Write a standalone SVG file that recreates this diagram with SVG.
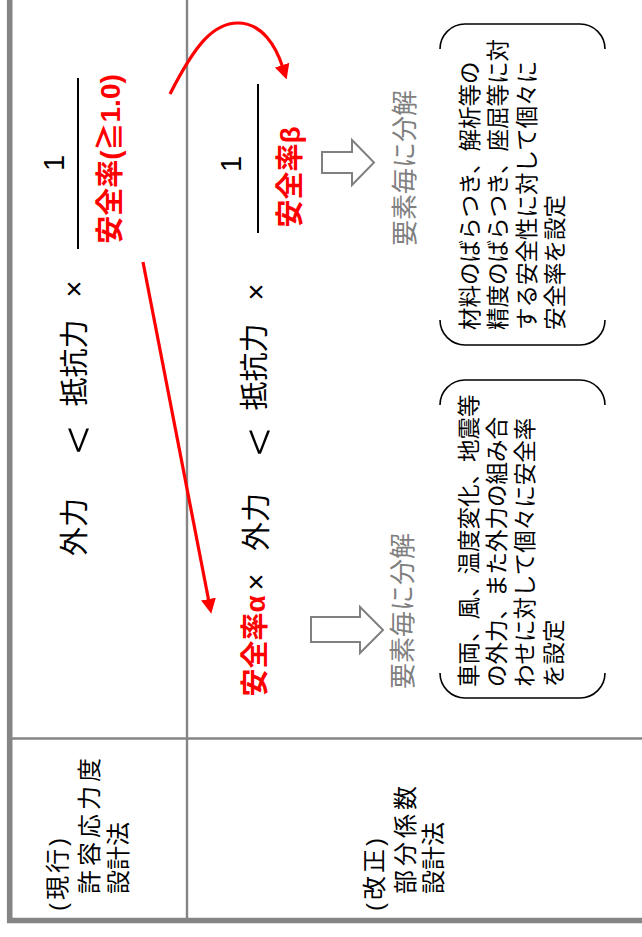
<svg xmlns="http://www.w3.org/2000/svg" width="642" height="937" viewBox="0 0 642 937">
<style>
text{font-family:"Liberation Sans","Noto Sans CJK JP",sans-serif;dominant-baseline:central}
.eq{font-size:29px;fill:#000;text-anchor:middle}
.lt{font-family:"Noto Sans CJK JP",sans-serif;font-size:50px;font-weight:300;fill:#000;text-anchor:middle}
.red{font-size:28px;font-weight:bold;fill:#ff0000;text-anchor:middle}
.gry{font-size:26px;fill:#808080;text-anchor:middle}
.box{font-size:22.5px;fill:#000;text-anchor:start}
.lab{font-size:24px;fill:#000;text-anchor:start}
.grid{stroke:#858585;fill:none}
.br{stroke:#000;stroke-width:1.6;fill:none}
.hol{stroke:#808080;stroke-width:2;fill:#fff}
.rarr{stroke:#ff0000;stroke-width:3.2;fill:none}
</style>
<defs>
<marker id="rhead" viewBox="0 0 10 10" refX="2" refY="5" markerUnits="userSpaceOnUse" markerWidth="15" markerHeight="17" orient="auto">
<path d="M0,0 L10,5 L0,10 z" fill="#ff0000"/>
</marker>
</defs>
<rect width="642" height="937" fill="#fff"/>
<g id="table">
<path class="grid" d="M9.7,0 V920.5 H642" stroke-width="5.6" stroke-linejoin="miter"/>
<path class="grid" d="M187,0 V918" stroke-width="2.4"/>
<path class="grid" d="M12,738.5 H642" stroke-width="2.4"/>
</g>
<g id="label-current">
<text class="lab" transform="translate(57,911) rotate(-90)" letter-spacing="3">(現行)</text>
<text class="lab" transform="translate(89,894) rotate(-90)" letter-spacing="4">許容応力度</text>
<text class="lab" transform="translate(118,894) rotate(-90)">設計法</text>
</g>
<g id="label-revised">
<text class="lab" transform="translate(374,911) rotate(-90)" letter-spacing="3">(改正)</text>
<text class="lab" transform="translate(405,894) rotate(-90)" letter-spacing="4">部分係数</text>
<text class="lab" transform="translate(433,894) rotate(-90)">設計法</text>
</g>
<g id="eq-current">
<text class="eq" transform="translate(75,527) rotate(-90)">外力</text>
<text class="lt" transform="translate(75,440) rotate(-90)">&lt;</text>
<text class="eq" transform="translate(75,363) rotate(-90)">抵抗力</text>
<text class="eq" transform="translate(74,289) rotate(-90)">×</text>
<text class="eq" transform="translate(54,163) rotate(-90)">1</text>
<path d="M78,78 V249" stroke="#000" stroke-width="2"/>
<text class="red" transform="translate(110,159) rotate(-90)">安全率(≧1.0)</text>
</g>
<g id="eq-revised">
<text class="red" transform="translate(255,646) rotate(-90)">安全率α</text>
<text class="eq" transform="translate(256,582) rotate(-90)">×</text>
<text class="eq" transform="translate(257,522) rotate(-90)">外力</text>
<text class="lt" transform="translate(256,442) rotate(-90)">&lt;</text>
<text class="eq" transform="translate(255,367) rotate(-90)">抵抗力</text>
<text class="eq" transform="translate(256,292) rotate(-90)">×</text>
<text class="eq" transform="translate(231,164) rotate(-90)">1</text>
<path d="M258,84 V233" stroke="#000" stroke-width="2"/>
<text class="red" transform="translate(290,177) rotate(-90)">安全率β</text>
</g>
<g id="decompose-beta">
<polygon class="hol" points="322,152 352,152 352,140 374,162.5 352,185 352,173 322,173"/>
<text class="gry" transform="translate(405,168) rotate(-90)">要素毎に分解</text>
</g>
<g id="decompose-alpha">
<polygon class="hol" points="311,617 360,617 360,607 383,630 360,653 360,642 311,642"/>
<text class="gry" transform="translate(403,611) rotate(-90)">要素毎に分解</text>
</g>
<g id="note-resistance">
<path class="br" d="M440,49 A25,25 0 0 1 465,24 H580 A25,25 0 0 1 605,49"/>
<path class="br" d="M440,320 A25,25 0 0 0 465,345 H580 A25,25 0 0 0 605,320"/>
<text class="box" transform="translate(470,330) rotate(-90)">材料のばらつき、解析等の</text>
<text class="box" transform="translate(498,330) rotate(-90)">精度のばらつき、座屈等に対</text>
<text class="box" transform="translate(527,330) rotate(-90)">する安全性に対して個々に</text>
<text class="box" transform="translate(555,330) rotate(-90)">安全率を設定</text>
</g>
<g id="note-load">
<path class="br" d="M440,405 A25,25 0 0 1 465,380 H580 A25,25 0 0 1 605,405"/>
<path class="br" d="M440,673 A25,25 0 0 0 465,698 H580 A25,25 0 0 0 605,673"/>
<text class="box" transform="translate(469,687) rotate(-90)">車両、風、温度変化、地震等</text>
<text class="box" transform="translate(497,687) rotate(-90)">の外力、また外力の組み合</text>
<text class="box" transform="translate(525,687) rotate(-90)">わせに対して個々に安全率</text>
<text class="box" transform="translate(554,687) rotate(-90)">を設定</text>
</g>
<g id="connectors">
<path class="rarr" d="M170,94 C195,45 213,23 238,23 C262,23 276,46 283,68" marker-end="url(#rhead)"/>
<path class="rarr" d="M143,262 L209,602" marker-end="url(#rhead)"/>
</g>
</svg>
